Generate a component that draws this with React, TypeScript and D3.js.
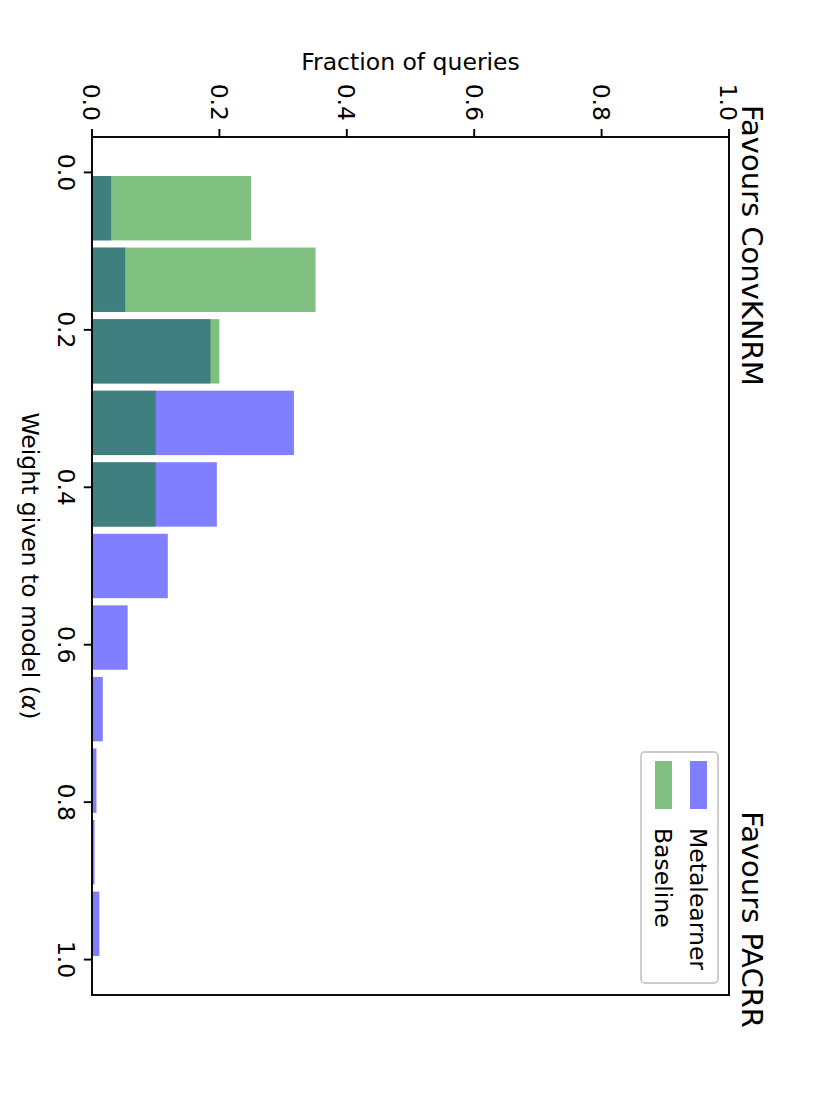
import * as d3 from 'd3';
import React, { useEffect, useRef } from 'react';

// histogram of alpha, 11 equal bins over [0, 1]
const binCount = 11;
const metalearner = [0.03, 0.052, 0.186, 0.317, 0.196, 0.119, 0.056, 0.017, 0.007, 0.004, 0.0115];
const baseline = [0.25, 0.351, 0.2, 0.1, 0.1, 0, 0, 0, 0, 0, 0];
const weightTicks = [0, 0.2, 0.4, 0.6, 0.8, 1.0];
const fractionTicks = [0, 0.2, 0.4, 0.6, 0.8, 1.0];
const seriesNames = ['Metalearner', 'Baseline'];
const seriesColors = ['#0000ff', '#008000'];

const App = () => {
    const ref = useRef<SVGSVGElement>(null);
    const width = 830;
    const height = 1106;
    const font = 'DejaVu Sans, sans-serif';
    const fs = 23.5;

    useEffect(() => {
        const svg = d3.select(ref.current);
        svg.selectAll('*').remove();

        const binW = 1 / binCount;
        const rwidth = 0.9;
        const lo = binW * (1 - rwidth) / 2;
        const hi = 1 - lo;
        const pad = (hi - lo) * 0.05;

        // rotated figure: weight runs down the page, fraction runs to the right
        const y = d3.scaleLinear().domain([lo - pad, hi + pad]).range([137, 995]);
        const x = d3.scaleLinear().domain([0, 1]).range([92, 729]);

        const g = svg.append('g');

        const drawBars = (vals: number[], color: string) => {
            g.selectAll(null)
                .data(vals)
                .join('rect')
                .attr('x', x(0))
                .attr('y', (d, i) => y(i * binW + lo))
                .attr('width', (d) => x(d) - x(0))
                .attr('height', (d, i) => y(i * binW + lo + binW * rwidth) - y(i * binW + lo))
                .attr('fill', color)
                .attr('fill-opacity', 0.5);
        };
        drawBars(metalearner, seriesColors[0]);
        drawBars(baseline, seriesColors[1]);

        // spines
        g.append('rect')
            .attr('x', x(0))
            .attr('y', y.range()[0])
            .attr('width', x(1) - x(0))
            .attr('height', y.range()[1] - y.range()[0])
            .attr('fill', 'none')
            .attr('stroke', '#000')
            .attr('stroke-width', 1.9);

        const fmt = d3.format('.1f');

        // fraction ticks (top)
        fractionTicks.forEach((t) => {
            g.append('line')
                .attr('x1', x(t)).attr('x2', x(t))
                .attr('y1', 137).attr('y2', 129)
                .attr('stroke', '#000').attr('stroke-width', 1.9);
            g.append('text')
                .attr('transform', `translate(${x(t) - 0.3645 * fs},121) rotate(90)`)
                .attr('text-anchor', 'end')
                .attr('font-family', font)
                .attr('font-size', fs)
                .text(fmt(t));
        });

        // weight ticks (left)
        weightTicks.forEach((t) => {
            g.append('line')
                .attr('x1', x(0)).attr('x2', x(0) - 8.2)
                .attr('y1', y(t)).attr('y2', y(t))
                .attr('stroke', '#000').attr('stroke-width', 1.9);
            g.append('text')
                .attr('transform', `translate(57.5,${y(t)}) rotate(90)`)
                .attr('text-anchor', 'middle')
                .attr('font-family', font)
                .attr('font-size', fs)
                .text(fmt(t));
        });

        g.append('text')
            .attr('x', (x(0) + x(1)) / 2)
            .attr('y', 70)
            .attr('text-anchor', 'middle')
            .attr('font-family', font)
            .attr('font-size', fs)
            .text('Fraction of queries');

        const wl = g.append('text')
            .attr('transform', `translate(22,${(y.range()[0] + y.range()[1]) / 2}) rotate(90)`)
            .attr('text-anchor', 'middle')
            .attr('font-family', font)
            .attr('font-size', fs);
        wl.append('tspan').text('Weight given to model (');
        wl.append('tspan').attr('font-style', 'italic').text('α');
        wl.append('tspan').text(')');

        g.append('text')
            .attr('transform', `translate(742,105) rotate(90)`)
            .attr('font-family', font)
            .attr('font-size', 29)
            .text('Favours ConvKNRM');
        g.append('text')
            .attr('transform', `translate(742,1028) rotate(90)`)
            .attr('text-anchor', 'end')
            .attr('font-family', font)
            .attr('font-size', 29)
            .text('Favours PACRR');

        // legend
        const lg = g.append('g');
        lg.append('rect')
            .attr('x', 641).attr('y', 752)
            .attr('width', 77).attr('height', 231)
            .attr('rx', 4)
            .attr('fill', '#fff').attr('fill-opacity', 0.8)
            .attr('stroke', '#cccccc').attr('stroke-width', 1.9);
        const centers = [698.5, 663.5];
        seriesNames.forEach((name, i) => {
            lg.append('rect')
                .attr('x', centers[i] - 8.5).attr('y', 761)
                .attr('width', 17).attr('height', 48)
                .attr('fill', seriesColors[i]).attr('fill-opacity', 0.5);
            lg.append('text')
                .attr('transform', `translate(${centers[i] - 0.3645 * fs},828) rotate(90)`)
                .attr('font-family', font)
                .attr('font-size', fs)
                .text(name);
        });
    }, []);

    return (
        <svg
            ref={ref}
            width={width}
            height={height}
            style={{ position: 'absolute', left: 0, top: 0, background: '#fff' }}
        ></svg>
    );
};

export default App;
